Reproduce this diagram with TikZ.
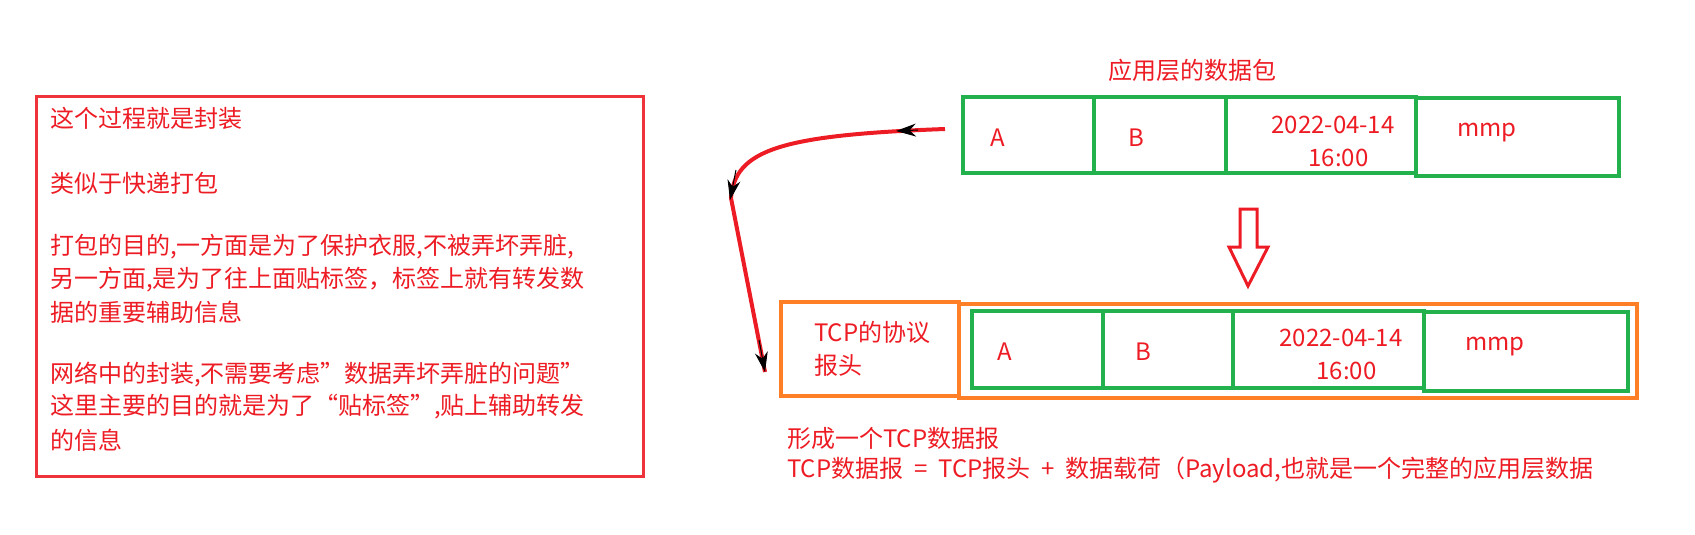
\documentclass[tikz,border=0pt]{standalone}
\usepackage{fontspec}
\setmainfont{Noto Sans CJK SC}
\usetikzlibrary{arrows.meta}
\definecolor{myred}{HTML}{ED1C24}
\definecolor{mygreen}{HTML}{22B14C}
\definecolor{myorange}{HTML}{FF7F27}
\begin{document}
\begin{tikzpicture}[x=1pt,y=-1pt,
  txt/.style={text=myred,font=\fontsize{24pt}{33pt}\selectfont,inner sep=0pt},
  gbox/.style={draw=mygreen,line width=4pt},
  obox/.style={draw=myorange,line width=4pt}]
\useasboundingbox (0,0) rectangle (1695,535);
% left box
\draw[draw=myred!90,line width=3pt] (36,96) rectangle (643,476);
\foreach \y/\t in {118/这个过程就是封装,183/类似于快递打包,247/{打包的目的,一方面是为了保护衣服,不被弄坏弄脏,},280/{另一方面,是为了往上面贴标签，标签上就有转发数},312/据的重要辅助信息,375/{网络中的封装,不需要考虑"数据弄坏弄脏的问题"},407/{这里主要的目的就是为了“贴标签”,贴上辅助转发},440/的信息}
  \node[txt,anchor=west] at (50,\y) {\t};
% top packet
\node[txt] (title) at (1192,70) {应用层的数据包};
\draw[gbox] (963,97) rectangle (1416,173);
\draw[gbox] (1416,98) rectangle (1619,176);
\draw[gbox] (1094,97) -- (1094,173);
\draw[gbox] (1226,97) -- (1226,173);
\node[txt] (a1) at (998,138) {A};
\node[txt] (b1) at (1136,138) {B};
\node[txt,align=center] (d1) at (1333,141) {2022-04-14\\\ \ 16:00};
\node[txt] (m1) at (1487,133) {mmp};
% down arrow
\draw[myred,line width=3pt,fill=white,line join=miter] (1240,209) -- (1257,209) -- (1257,247) -- (1268,247) -- (1248,286) -- (1229,247) -- (1240,247) -- cycle;
% bottom
\draw[obox] (781,302) rectangle (959,396);
\draw[obox] (959,304) rectangle (1637,398);
\draw[gbox] (972,311) rectangle (1424,388);
\draw[gbox] (1424,312) rectangle (1628,391);
\draw[gbox] (1103,311) -- (1103,388);
\draw[gbox] (1233,311) -- (1233,388);
\node[txt,align=left,anchor=west] (hdr) at (814,349) {TCP的协议\\报头};
\node[txt] (a2) at (1005,352) {A};
\node[txt] (b2) at (1143,352) {B};
\node[txt,align=center] (d2) at (1341,354) {2022-04-14\\\ \ 16:00};
\node[txt] (m2) at (1495,347) {mmp};
\node[txt,anchor=west] (f1) at (787,438) {形成一个TCP数据报};
\node[txt,anchor=west] (f2) at (787,470) {TCP数据报\ \ =\ \ TCP报头\ \ +\ \ 数据载荷（Payload,也就是一个完整的应用层数据};
% curve
\coordinate (cs) at (945,129);
\coordinate (cm) at (731,198);
\coordinate (ce) at (765,372);
\draw[myred,line width=4pt] (cs) .. controls (780,135) and (735,150) .. (cm) -- (ce);
\draw[line width=1pt,-{Stealth[length=20pt,width=13pt]}] (918,130) -- (896,131);
\draw[line width=1pt,-{Stealth[length=20pt,width=13pt]}] (736,170) -- (730,200);
\draw[line width=1pt,-{Stealth[length=20pt,width=13pt]}] (759,340) -- (765,372);
\end{tikzpicture}
\end{document}
